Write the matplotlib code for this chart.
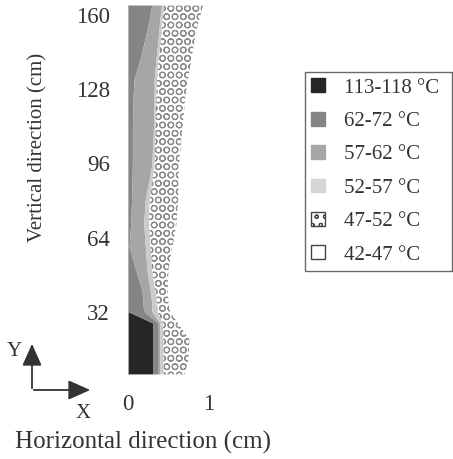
import matplotlib.pyplot as plt
from matplotlib.patches import Patch, FancyArrowPatch

plt.rcParams['font.family'] = ['Liberation Serif', 'DejaVu Serif']
plt.rcParams['hatch.linewidth'] = 0.8

# heights along the wall (cm)
heights = [5, 12, 20, 27, 32, 36, 41, 50, 60, 70, 80, 95, 110, 125, 132, 140, 150, 158, 164]

# outer edge of each temperature zone (cm from the inner face), inner -> outer
edge_113_118 = [.31, .31, .31, .31, 0, 0, 0, 0, 0, 0, 0, 0, 0, 0, 0, 0, 0, 0, 0]
edge_62_72 = [.38, .38, .38, .38, .20, .19, .18, .10, .02, .04, .05, .06, .06, .07, .08, .15, .22, .27, .30]
edge_57_62 = [.40, .40, .40, .40, .30, .30, .28, .24, .22, .20, .22, .30, .32, .33, .33, .35, .38, .40, .42]
edge_52_57 = [.44, .44, .44, .43, .37, .36, .34, .30, .28, .26, .27, .33, .34, .35, .36, .38, .41, .43, .45]
edge_47_52 = [.70, .75, .76, .62, .52, .50, .49, .50, .55, .60, .62, .63, .67, .71, .74, .78, .83, .88, .93]

zone_labels = ['113-118 °C', '62-72 °C', '57-62 °C', '52-57 °C', '47-52 °C', '42-47 °C']
y_ticks = [32, 64, 96, 128, 160]
x_ticks = [0, 1]

fig = plt.figure(figsize=(4.53, 4.59), dpi=100)
ax = fig.add_axes([0.2826, 0.159, 0.2141, 0.834])

zero = [0] * len(heights)
edges = [zero, edge_113_118, edge_62_72, edge_57_62, edge_52_57, edge_47_52]
fills = ['#262626', '#858585', '#a6a6a6', '#cbcbcb', 'white']
for i, fc in enumerate(fills):
    if fc == 'white':
        ax.fill_betweenx(heights, edges[i], edges[i + 1], facecolor='white',
                         edgecolor='#8a8a8a', hatch='OO', linewidth=0)
    else:
        ax.fill_betweenx(heights, edges[i], edges[i + 1], facecolor=fc,
                         edgecolor='none', linewidth=0)

ax.set_xlim(0, 1.2)
ax.set_ylim(0, 165)
ax.set_xticks(x_ticks)
ax.set_yticks(y_ticks)
ax.tick_params(length=0, labelsize=16.5, colors='#333333', pad=6)
ax.tick_params(axis='y', pad=13)
for s in ax.spines.values():
    s.set_visible(False)
ax.axvline(0, ymin=5 / 165, ymax=164 / 165, color='#bbbbbb', lw=0.6)

fig.text(143 / 453, 1 - 442 / 459, 'Horizontal direction (cm)', fontsize=18,
         color='#333333', ha='center', va='center')
fig.text(38 / 453, 1 - 147 / 459, 'Vertical direction (cm)', fontsize=15,
         color='#333333', ha='center', va='center', rotation=90)


# small X/Y orientation sketch
def fxy(px, py):
    return (px / 453, 1 - py / 459)


arrow = dict(arrowstyle='-|>,head_length=0.9,head_width=0.4', color='#333333', lw=1.3)
fig.add_artist(FancyArrowPatch(fxy(32, 391), fxy(32, 341), transform=fig.transFigure,
                               mutation_scale=15, **arrow))
fig.add_artist(FancyArrowPatch(fxy(31, 390), fxy(93, 390), transform=fig.transFigure,
                               mutation_scale=15, **arrow))
fig.text(*fxy(14, 351), 'Y', fontsize=15, color='#333333', ha='center', va='center')
fig.text(*fxy(83, 414), 'X', fontsize=15, color='#333333', ha='center', va='center')

handles = [
    Patch(facecolor='#262626', edgecolor='#262626'),
    Patch(facecolor='#858585', edgecolor='#858585'),
    Patch(facecolor='#a6a6a6', edgecolor='#a6a6a6'),
    Patch(facecolor='#d6d6d6', edgecolor='#d6d6d6'),
    Patch(facecolor='white', edgecolor='#444444', hatch='oo', linewidth=1),
    Patch(facecolor='white', edgecolor='#444444', linewidth=1),
]
leg = fig.legend(handles, zone_labels, loc='upper left',
                 bbox_to_anchor=(305 / 453, 1 - 268 / 459, 147 / 453, 196 / 459), mode='expand',
                 fontsize=15, frameon=True, fancybox=False, handlelength=0.65, handleheight=0.65,
                 handletextpad=0.9, labelspacing=0.68, borderpad=0.3, borderaxespad=0)
leg.get_frame().set_edgecolor('#444444')
leg.get_frame().set_linewidth(1.0)
for t in leg.get_texts():
    t.set_color('#333333')

fig.savefig('out.png', dpi=100)
